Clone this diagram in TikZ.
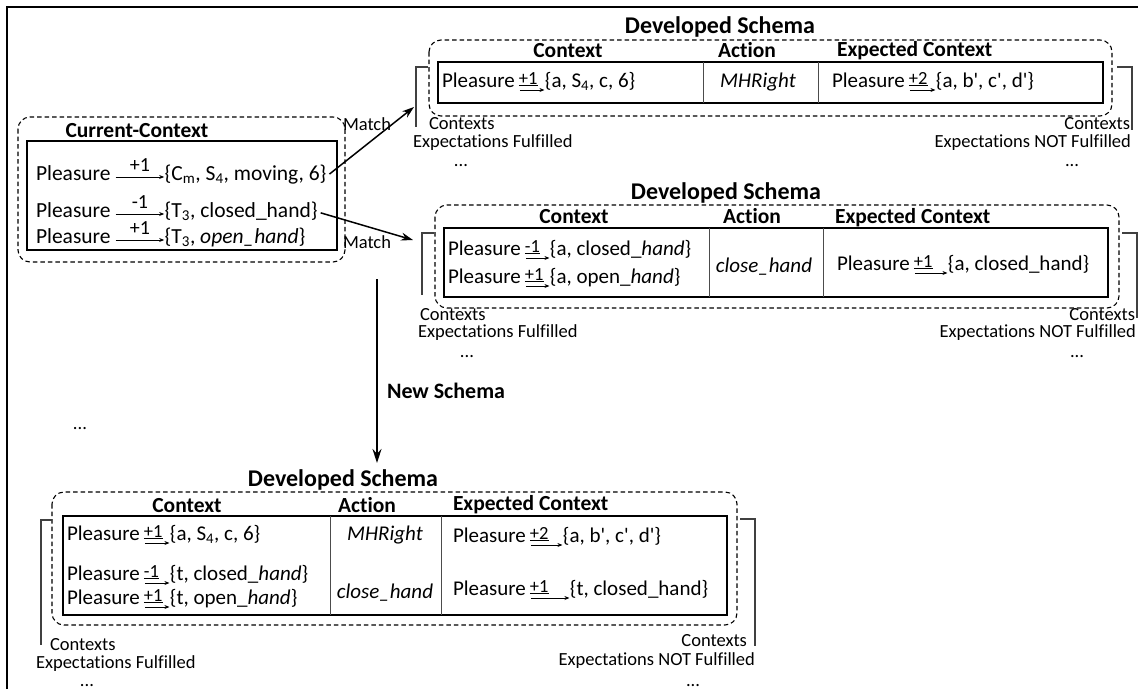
\documentclass[tikz,border=0pt]{standalone}
\usepackage{fontspec}
\setmainfont{Carlito}[Ligatures={TeXOff,CommonOff}]
\usetikzlibrary{arrows.meta}

% One "Pleasure --label--> {set}" entry:
% #1 name, #2 text style, #3 label placement, #4 x, #5 baseline y,
% #6 gap before the set, #7 arrow lift, #8 label, #9 set
\newcommand\relrow[9]{%
  \node[#2, anchor=base west] (#1p) at (#4,#5) {Pleasure};
  \node[#2, anchor=base west] (#1s) at ([xshift=#6]#1p.base east) {#9};
  \draw[relarr] ([xshift=5pt,yshift=#7]#1p.base east) -- ([xshift=-0.5pt,yshift=#7]#1s.base west)
    node[#3] {#8};}

\tikzset{
  t/.style={inner sep=0pt, outer sep=0pt},
  cctxt/.style={t, font=\fontsize{21.5}{24}\selectfont},
  sctxt/.style={t, font=\fontsize{21}{24}\selectfont},
  note/.style={t, font=\fontsize{18.5}{20}\selectfont, text height=10pt, text depth=3pt},
  hdr/.style={t, font=\bfseries\fontsize{21.5}{24}\selectfont},
  ttl/.style={t, font=\bfseries\fontsize{24}{26}\selectfont},
  cclbl/.style={t, font=\fontsize{20}{22}\selectfont, midway, above=6pt},
  sclbl/.style={t, font=\fontsize{18.5}{20}\selectfont, pos=0, anchor=south west, yshift=4pt, xshift=-1pt},
  relarr/.style={line width=0.8pt, -{Stealth[length=5pt,width=4pt]}},
  flow/.style={line width=1.5pt, -{Stealth[length=12pt,width=8pt]}},
  dashbox/.style={line width=1.1pt, dash pattern=on 4.5pt off 3pt, rounded corners=12pt},
  rowbox/.style={line width=1.8pt},
  divider/.style={line width=0.8pt, black!70},
  bracket/.style={line width=1.1pt, black!75},
}

\begin{document}
\begin{tikzpicture}[x=1pt,y=-1pt]
\useasboundingbox (0,0) rectangle (1138,689);

% figure frame (left and top edges)
\draw[line width=1.5pt] (7,689) -- (7,7) -- (1138,7);

% ---------------- Current-Context ----------------
\draw[dashbox] (18,117) rectangle (345,262);
\node[hdr, anchor=base] (cctitle) at (137,137) {Current-Context};
\draw[rowbox] (27,141) rectangle (337,250);
\relrow{c1}{cctxt}{cclbl}{36}{180}{54pt}{3pt}{+1}{\{C\textsubscript{m}, S\textsubscript{4}, moving, 6\}}
\relrow{c2}{cctxt}{cclbl}{36}{217}{54pt}{3pt}{-1}{\{T\textsubscript{3}, closed\_hand\}}
\relrow{c3}{cctxt}{cclbl}{36}{243}{54pt}{3pt}{+1}{\{T\textsubscript{3}, \textit{open\_hand}\}}

\node[note, anchor=base west] (match1) at (343,130) {Match};
\node[note, anchor=base west] (match2) at (343,248) {Match};
\coordinate (m1) at (414,107);
\coordinate (m2) at (413,240);
\draw[flow] ([xshift=3pt]c1s.east) -- (m1);
\draw[flow] ([xshift=3pt,yshift=-2pt]c2s.east) -- (m2);

% ---------------- Developed Schema 1 ----------------
\node[ttl, anchor=base] (s1title) at (720,33) {Developed Schema};
\draw[dashbox] (429,40) rectangle (1112,116);
\node[hdr, anchor=base] (s1hc) at (568,57) {Context};
\node[hdr, anchor=base] (s1ha) at (747,57) {Action};
\node[hdr, anchor=base west] (s1he) at (837,56) {Expected Context};
\draw[rowbox] (438,62) rectangle (1103,103);
\draw[divider] (703,62) -- (703,103);
\draw[divider] (818,62) -- (818,103);
\relrow{a1}{sctxt}{sclbl}{442}{87}{30pt}{-3pt}{\underline{+1}}{\{a, S\textsubscript{4}, c, 6\}}
\node[sctxt, anchor=base] (a1act) at (758,87) {\textit{MHRight}};
\relrow{a1e}{sctxt}{sclbl}{832}{87}{31pt}{-3pt}{\underline{+2}}{\{a, b', c', d'\}}

\draw[bracket] (428,67) -- (416,67) -- (416,127);
\node[note, anchor=base west] (s1lc) at (429,129) {Contexts};
\node[note, anchor=base west] (s1lf) at (413,147) {Expectations Fulfilled};
\node[note, anchor=base] (s1ld) at (461,166) {...};
\draw[bracket] (1117,67) -- (1132,67) -- (1132,130);
\node[note, anchor=base east] (s1rc) at (1130,129) {Contexts};
\node[note, anchor=base east] (s1rf) at (1131,147) {Expectations NOT Fulfilled};
\node[note, anchor=base] (s1rd) at (1072,166) {...};

% ---------------- Developed Schema 2 ----------------
\node[ttl, anchor=base] (s2title) at (726,199) {Developed Schema};
\draw[dashbox] (435,205) rectangle (1119,308);
\node[hdr, anchor=base] (s2hc) at (574,223) {Context};
\node[hdr, anchor=base] (s2ha) at (752,223) {Action};
\node[hdr, anchor=base west] (s2he) at (835,223) {Expected Context};
\draw[rowbox] (444,228) rectangle (1108,297);
\draw[divider] (709,228) -- (709,297);
\draw[divider] (823,228) -- (823,297);
\relrow{b1}{sctxt}{sclbl}{448}{255}{29pt}{-3pt}{\underline{-1}}{\{a, closed\_\textit{hand}\}}
\relrow{b2}{sctxt}{sclbl}{448}{283}{29pt}{-3pt}{\underline{+1}}{\{a, open\_\textit{hand}\}}
\node[sctxt, anchor=base] (b2act) at (764,272) {\textit{close\_hand}};
\relrow{b2e}{sctxt}{sclbl}{837}{270}{38pt}{-3pt}{\underline{+1}}{\{a, closed\_hand\}}

\draw[bracket] (434,233) -- (422,233) -- (422,295);
\node[note, anchor=base west] (s2lc) at (420,320) {Contexts};
\node[note, anchor=base west] (s2lf) at (418,337) {Expectations Fulfilled};
\node[note, anchor=base] (s2ld) at (467,357) {...};
\draw[bracket] (1122,233) -- (1137,233) -- (1137,318);
\node[note, anchor=base east] (s2rc) at (1135,320) {Contexts};
\node[note, anchor=base east] (s2rf) at (1136,337) {Expectations NOT Fulfilled};
\node[note, anchor=base] (s2rd) at (1077,357) {...};

% ---------------- New schema ----------------
\coordinate (n0) at (377,279);
\coordinate (n1) at (377,463);
\draw[flow, -{Stealth[length=14pt,width=9pt]}] (n0) -- (n1);
\node[hdr, anchor=base west, font=\bfseries\fontsize{22}{24}\selectfont] (newschema) at (387,398) {New Schema};
\node[note, anchor=base] (moredots) at (80,429) {...};

% ---------------- Developed Schema 3 ----------------
\node[ttl, anchor=base] (s3title) at (343,486) {Developed Schema};
\draw[dashbox] (52,492) rectangle (737,625);
\node[hdr, anchor=base] (s3hc) at (187,512) {Context};
\node[hdr, anchor=base] (s3ha) at (367,512) {Action};
\node[hdr, anchor=base west] (s3he) at (453,510) {Expected Context};
\draw[rowbox] (63,516) rectangle (727,615);
\draw[divider] (330,516) -- (330,615);
\draw[divider] (441,516) -- (441,615);
\relrow{d1}{sctxt}{sclbl}{67}{540}{30pt}{-3pt}{\underline{+1}}{\{a, S\textsubscript{4}, c, 6\}}
\relrow{d2}{sctxt}{sclbl}{67}{580}{30pt}{-3pt}{\underline{-1}}{\{t, closed\_\textit{hand}\}}
\relrow{d3}{sctxt}{sclbl}{67}{604}{30pt}{-3pt}{\underline{+1}}{\{t, open\_\textit{hand}\}}
\node[sctxt, anchor=base] (d1act) at (385,540) {\textit{MHRight}};
\node[sctxt, anchor=base] (d3act) at (385,598) {\textit{close\_hand}};
\relrow{d1e}{sctxt}{sclbl}{453}{542}{37pt}{-3pt}{\underline{+2}}{\{a, b', c', d'\}}
\relrow{d3e}{sctxt}{sclbl}{453}{595}{44pt}{-3pt}{\underline{+1}}{\{t, closed\_hand\}}

\draw[bracket] (52,520) -- (41,520) -- (41,645);
\node[note, anchor=base west] (s3lc) at (50,650) {Contexts};
\node[note, anchor=base west] (s3lf) at (36,668) {Expectations Fulfilled};
\node[note, anchor=base] (s3ld) at (87,686) {...};
\draw[bracket] (740,519) -- (755,519) -- (755,646);
\node[note, anchor=base east] (s3rc) at (747,646) {Contexts};
\node[note, anchor=base east] (s3rf) at (755,665) {Expectations NOT Fulfilled};
\node[note, anchor=base] (s3rd) at (693,686) {...};
\end{tikzpicture}
\end{document}
